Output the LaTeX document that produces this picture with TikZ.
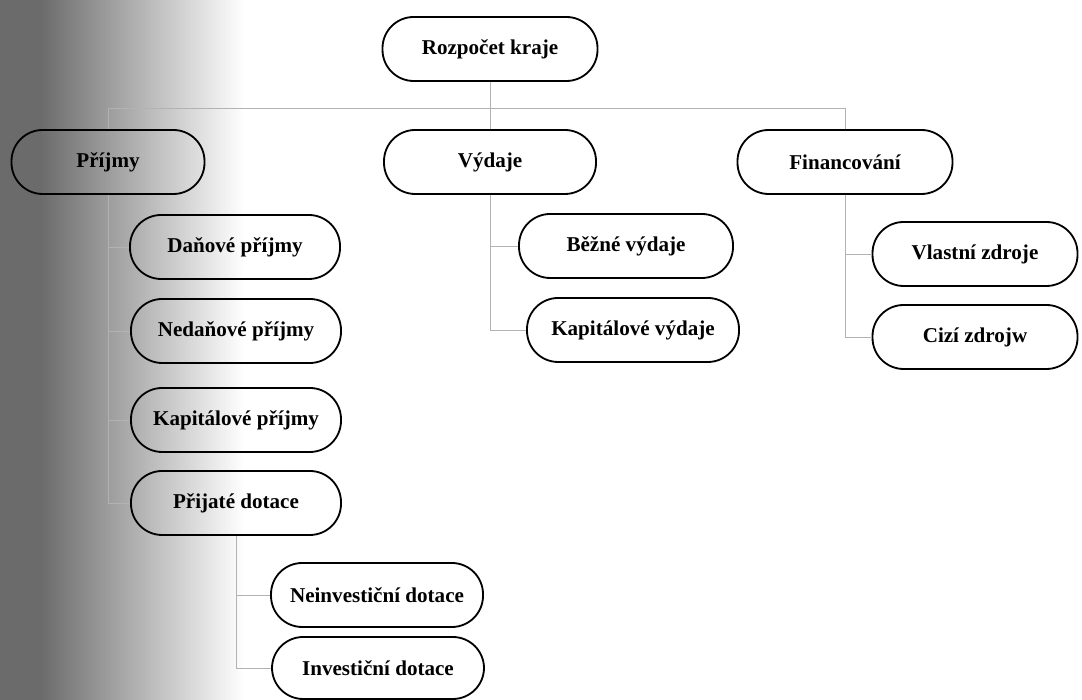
\documentclass[tikz,border=0pt]{standalone}
\usepackage{fontspec}
\setmainfont{Liberation Serif}
\usepackage{tikz}
\usetikzlibrary{positioning,calc}

\begin{document}
\begin{tikzpicture}[
x=1cm,
y=1cm,
every node/.style={font=\fontsize{15}{18}\selectfont\bfseries},
box/.style={rectangle,rounded corners=0.78cm,draw,line width=1.3pt,align=center,inner sep=2pt,minimum height=1.6cm,minimum width=5.3cm},
link/.style={draw=gray!60,line width=0.5pt}
]
\useasboundingbox (0,0) rectangle (27.05,17.5);
% grey scan shadow on the left edge
\fill[black!58] (0,0) rectangle (1.0,17.5);
\shade[left color=black!58,right color=white] (1.0,0) rectangle (6.1,17.5);

\node[box,minimum width=5.375cm] (kraj) at (12.25,16.275) {Rozpočet kraje};
\coordinate (bus) at (12.25,14.8);
\node[box,minimum width=4.825cm] (prijmy) at (2.7,13.45) {Příjmy};
\node[box] (vydaje) at (12.25,13.45) {Výdaje};
\node[box,minimum width=5.375cm] (financ) at (21.125,13.45) {Financování};

\node[box,minimum width=5.25cm] (danove) at (5.875,11.325) {Daňové příjmy};
\node[box,minimum width=5.25cm] (nedanove) at (5.9,9.225) {Nedaňové příjmy};
\node[box,minimum width=5.25cm] (kapprij) at (5.9,7.0) {Kapitálové příjmy};
\node[box,minimum width=5.25cm] (dotace) at (5.9,4.925) {Přijaté dotace};
\node[box] (neinv) at (9.425,2.625) {Neinvestiční dotace};
\node[box,minimum height=1.55cm] (inv) at (9.45,0.8) {Investiční dotace};

\node[box,minimum width=5.35cm] (bezne) at (15.65,11.35) {Běžné výdaje};
\node[box] (kapvyd) at (15.825,9.25) {Kapitálové výdaje};

\node[box,minimum width=5.125cm] (vlastni) at (24.375,11.15) {Vlastní zdroje};
\node[box,minimum width=5.125cm] (cizi) at (24.375,9.075) {Cizí zdrojw};

\draw[link] (kraj.south) -- (bus);
\draw[link] (bus) -| (prijmy.north);
\draw[link] (bus) -- (vydaje.north);
\draw[link] (bus) -| (financ.north);
\draw[link] (prijmy.south) |- (danove.west);
\draw[link] (prijmy.south) |- (nedanove.west);
\draw[link] (prijmy.south) |- (kapprij.west);
\draw[link] (prijmy.south) |- (dotace.west);
\draw[link] (dotace.south) |- (neinv.west);
\draw[link] (dotace.south) |- (inv.west);
\draw[link] (vydaje.south) |- (bezne.west);
\draw[link] (vydaje.south) |- (kapvyd.west);
\draw[link] (financ.south) |- (vlastni.west);
\draw[link] (financ.south) |- (cizi.west);
\end{tikzpicture}
\end{document}
